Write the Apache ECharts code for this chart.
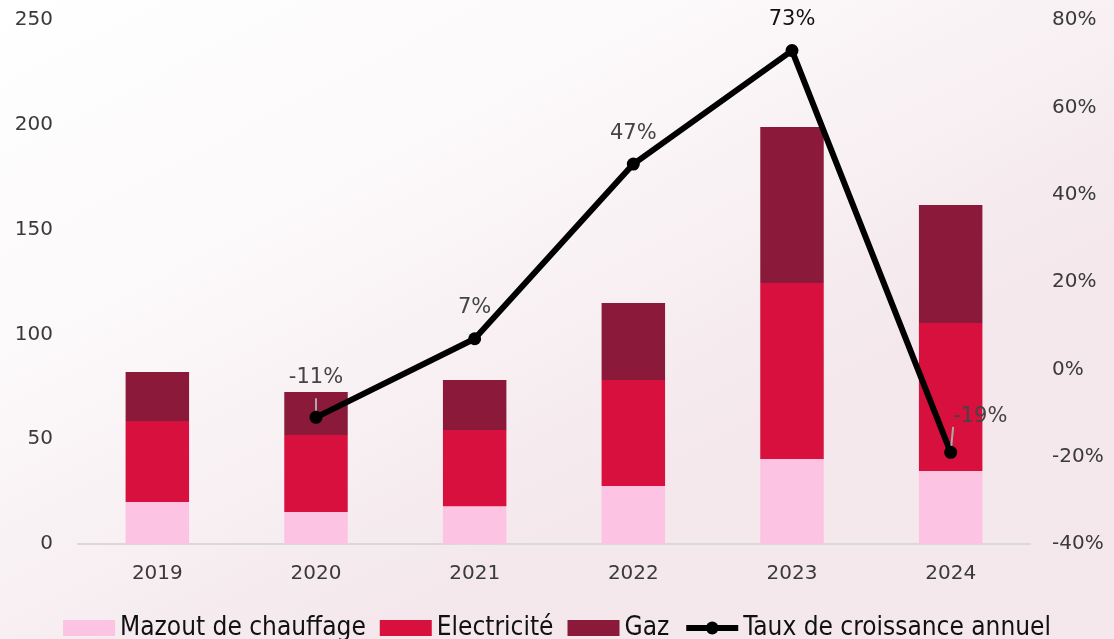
<!DOCTYPE html>
<html>
<head>
  <meta charset="utf-8">
  <title>Consommation énergie</title>
  <style type="text/css">
    html, body { margin: 0; padding: 0; }
    #main { width: 1114px; height: 639px; }
  </style>
</head>
<body>
<div id="main"></div>
<script type="text/javascript" src="https://cdn.jsdelivr.net/npm/echarts@6/dist/echarts.min.js"></script>
<script type="text/javascript">
  var years = ['2019', '2020', '2021', '2022', '2023', '2024'];
  var mazout = [20, 15.3, 18, 27.7, 40.6, 34.8];
  var electricite = [38.7, 36.7, 36.4, 50.5, 83.9, 70.6];
  var gaz = [23.4, 20.5, 23.8, 36.8, 74.5, 56.3];
  var croissance = [null, -11, 7, 47, 73, -19];

  var myChart = echarts.init(document.getElementById('main'));
  var font = '"DejaVu Sans", sans-serif';

  var lineData = croissance.map(function (v, i) {
    if (v === null) return null;
    var item = { value: v };
    if (v === -11) {
      item.label = { distance: 23 };
      item.labelLine = { show: true };
    } else if (v === -19) {
      item.label = { position: 'right', offset: [-18, -36] };
      item.labelLine = { show: true };
    } else if (v === 73) {
      item.label = { color: '#111' };
    }
    return item;
  });

  var option = {
    animation: false,
    backgroundColor: {
      type: 'linear', x: 0, y: 0, x2: 0.3, y2: 1,
      colorStops: [
        { offset: 0, color: '#ffffff' },
        { offset: 0.45, color: '#fcf9fa' },
        { offset: 1, color: '#f4e8ec' }
      ]
    },
    textStyle: { fontFamily: font },
    grid: { left: 78, right: 84, top: 20, bottom: 95 },
    legend: {
      bottom: -7,
      left: 'center',
      itemWidth: 52,
      itemHeight: 16,
      itemGap: 14,
      textStyle: { fontSize: 26, color: '#111', fontFamily: '"DejaVu Sans Condensed", "Liberation Sans Narrow", sans-serif' },
      data: [
        { name: 'Mazout de chauffage', icon: 'rect' },
        { name: 'Electricité', icon: 'rect' },
        { name: 'Gaz', icon: 'rect' },
        { name: 'Taux de croissance annuel', lineStyle: { width: 6 } }
      ]
    },
    xAxis: {
      type: 'category',
      data: years,
      axisLine: { lineStyle: { color: '#d9d9d9', width: 2 } },
      axisTick: { show: false },
      axisLabel: { fontSize: 20, color: '#3a3a3a', margin: 20 }
    },
    yAxis: [
      {
        type: 'value',
        min: 0, max: 250, interval: 50,
        splitLine: { show: false },
        axisLine: { show: false },
        axisLabel: { fontSize: 20, color: '#3a3a3a', margin: 25 }
      },
      {
        type: 'value',
        min: -40, max: 80, interval: 20,
        splitLine: { show: false },
        axisLine: { show: false },
        axisLabel: { fontSize: 20, color: '#3a3a3a', margin: 22, formatter: '{value}%' }
      }
    ],
    series: [
      {
        name: 'Mazout de chauffage', type: 'bar', stack: 'e',
        barWidth: '40%', itemStyle: { color: '#fdc3e3' }, data: mazout
      },
      {
        name: 'Electricité', type: 'bar', stack: 'e',
        itemStyle: { color: '#d7103d' }, data: electricite
      },
      {
        name: 'Gaz', type: 'bar', stack: 'e',
        itemStyle: { color: '#8b1a3a' }, data: gaz
      },
      {
        name: 'Taux de croissance annuel', type: 'line', yAxisIndex: 1,
        symbol: 'circle', symbolSize: 13,
        lineStyle: { color: '#000', width: 6 },
        itemStyle: { color: '#000' },
        label: {
          show: true, position: 'top', distance: 14,
          fontSize: 21, color: '#444',
          formatter: '{c}%'
        },
        labelLine: { show: false, lineStyle: { color: '#aaa', width: 2 } },
        data: lineData
      }
    ]
  };

  myChart.setOption(option);
</script>
</body>
</html>
